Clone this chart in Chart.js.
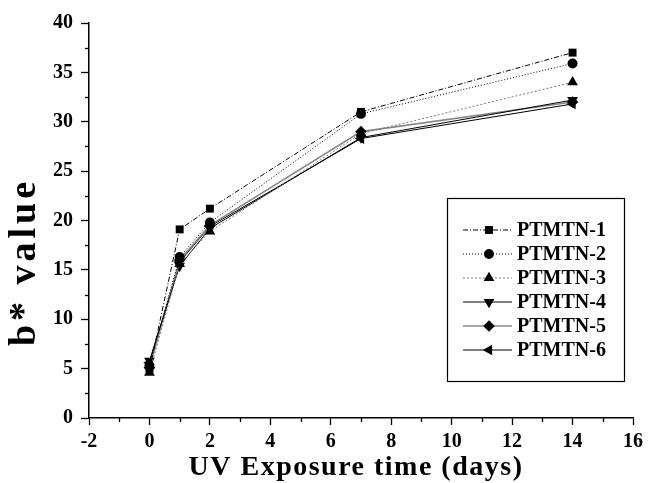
<!DOCTYPE html>
<html>
<head>
<meta charset="utf-8">
<script src="https://cdn.jsdelivr.net/npm/chart.js@4.4.0/dist/chart.umd.min.js"></script>
<style>
html, body { margin: 0; padding: 0; background: #fff; }
#wrap { width: 648px; height: 483px; }
</style>
</head>
<body>
<div id="wrap"><canvas id="chartCanvas" width="648" height="483"></canvas></div>
<script>
// values
var days = [0, 1, 2, 7, 14];
var ptmtn1 = [4.9, 19.1, 21.2, 31.0, 37.0];
var ptmtn2 = [5.3, 16.3, 19.8, 30.8, 35.9];
var ptmtn3 = [4.6, 15.6, 18.9, 28.8, 34.0];
var ptmtn4 = [5.8, 15.4, 19.2, 28.4, 32.2];
var ptmtn5 = [5.1, 16.0, 19.5, 29.0, 32.0];
var ptmtn6 = [5.6, 15.8, 19.4, 28.3, 31.8];
var seriesNames = ['PTMTN-1', 'PTMTN-2', 'PTMTN-3', 'PTMTN-4', 'PTMTN-5', 'PTMTN-6'];
var xTicks = [-2, 0, 2, 4, 6, 8, 10, 12, 14, 16];
var yTicks = [0, 5, 10, 15, 20, 25, 30, 35, 40];
var xTitle = 'UV Exposure time (days)';
var yTitle = 'b* value';

var allSeries = [ptmtn1, ptmtn2, ptmtn3, ptmtn4, ptmtn5, ptmtn6];

var looks = [
    { style: 'rect', rot: 0, r: 5.6, color: '#000', dash: [5, 2, 1, 2], width: 1 },
    { style: 'circle', rot: 0, r: 5, color: '#000', dash: [1, 2], width: 1 },
    { style: 'triangle', rot: 0, r: 6.2, color: '#777', dash: [2, 2], width: 1 },
    { style: 'triangle', rot: 180, r: 6.2, color: '#000', dash: [], width: 1 },
    { style: 'rectRot', rot: 0, r: 5.8, color: '#888', dash: [], width: 1.6 },
    { style: 'triangle', rot: -90, r: 6.2, color: '#000', dash: [], width: 1 }
];

var serifFamily = "'Liberation Serif', 'DejaVu Serif', serif";
var serifBold = function (size) {
    return { family: serifFamily, weight: 'bold', size: size };
};

var datasets = allSeries.map(function (vals, i) {
    return {
        label: seriesNames[i],
        data: days.map(function (d, j) { return { x: d, y: vals[j] }; }),
        showLine: true,
        borderColor: looks[i].color,
        borderWidth: looks[i].width,
        borderDash: looks[i].dash,
        pointStyle: looks[i].style,
        rotation: looks[i].rot,
        pointRadius: looks[i].r,
        pointBackgroundColor: '#000',
        pointBorderColor: '#000',
        pointBorderWidth: 0
    };
});

var minorTicks = {
    id: 'minorTicks',
    afterDraw: function (chart) {
        var ctx = chart.ctx;
        var xs = chart.scales.x, ys = chart.scales.y;
        var area = chart.chartArea;
        ctx.save();
        ctx.strokeStyle = '#000';
        ctx.lineWidth = 1.3;
        for (var v = -1; v < 16; v += 2) {
            var px = Math.round(xs.getPixelForValue(v)) + 0.5;
            ctx.beginPath();
            ctx.moveTo(px, area.bottom);
            ctx.lineTo(px, area.bottom + 4);
            ctx.stroke();
        }
        for (var w = 2.5; w < 40; w += 5) {
            var py = Math.round(ys.getPixelForValue(w)) + 0.5;
            ctx.beginPath();
            ctx.moveTo(area.left, py);
            ctx.lineTo(area.left - 4, py);
            ctx.stroke();
        }
        ctx.restore();
    }
};

// axis titles, spaced out like the original
var axisTitles = {
    id: 'axisTitles',
    afterDraw: function (chart) {
        var ctx = chart.ctx;
        ctx.save();
        ctx.fillStyle = '#000';
        ctx.textAlign = 'center';
        ctx.textBaseline = 'alphabetic';
        ctx.font = 'bold 28px ' + serifFamily;
        ctx.letterSpacing = '1.5px';
        ctx.fillText(xTitle, 356, 475);
        ctx.translate(35, 262);
        ctx.rotate(-Math.PI / 2);
        ctx.font = 'bold 38px ' + serifFamily;
        ctx.letterSpacing = '4px';
        ctx.fillText(yTitle, 0, 0);
        ctx.restore();
    }
};

var boxLegend = {
    id: 'boxLegend',
    afterDraw: function (chart) {
        var ctx = chart.ctx;
        ctx.save();
        ctx.strokeStyle = '#000';
        ctx.lineWidth = 1.2;
        ctx.setLineDash([]);
        ctx.strokeRect(447.5, 198.5, 177, 183);
        ctx.font = 'bold 20px ' + serifFamily;
        ctx.fillStyle = '#000';
        ctx.textBaseline = 'middle';
        for (var i = 0; i < seriesNames.length; i++) {
            var y = 230 + i * 24;
            var lk = looks[i];
            ctx.strokeStyle = lk.color;
            ctx.lineWidth = lk.width;
            ctx.setLineDash(lk.dash);
            ctx.beginPath();
            ctx.moveTo(463, y);
            ctx.lineTo(512, y);
            ctx.stroke();
            ctx.setLineDash([]);
            ctx.fillStyle = '#000';
            ctx.strokeStyle = '#000';
            Chart.helpers.drawPoint(ctx, { pointStyle: lk.style, rotation: lk.rot, radius: lk.r, borderWidth: 0 }, 489, y);
            ctx.fillText(seriesNames[i], 517, y + 1);
        }
        ctx.restore();
    }
};

var ctx = document.getElementById('chartCanvas').getContext('2d');
var chart = new Chart(ctx, {
    type: 'scatter',
    data: { datasets: datasets },
    options: {
        responsive: false,
        animation: false,
        devicePixelRatio: 1,
        layout: { padding: { top: 23, right: 13, left: 0, bottom: 0 } },
        plugins: {
            legend: { display: false },
            tooltip: { enabled: false }
        },
        scales: {
            x: {
                type: 'linear',
                min: -2,
                max: 16,
                afterBuildTicks: function (scale) {
                    scale.ticks = xTicks.map(function (v) { return { value: v }; });
                },
                afterFit: function (scale) { scale.height = 65; },
                ticks: { color: '#000', font: serifBold(20), padding: 5, maxRotation: 0 },
                grid: { drawOnChartArea: false, drawTicks: true, tickLength: 7, tickColor: '#000', tickWidth: 1.3 },
                border: { display: true, color: '#000', width: 1.5 }
            },
            y: {
                type: 'linear',
                min: 0,
                max: 40,
                afterBuildTicks: function (scale) {
                    scale.ticks = yTicks.map(function (v) { return { value: v }; });
                },
                afterFit: function (scale) { scale.width = 89; },
                ticks: { color: '#000', font: serifBold(20), padding: 8 },
                grid: { drawOnChartArea: false, drawTicks: true, tickLength: 8, tickColor: '#000', tickWidth: 1.3 },
                border: { display: true, color: '#000', width: 1.5 }
            }
        }
    },
    plugins: [minorTicks, axisTitles, boxLegend]
});
</script>
</body>
</html>
